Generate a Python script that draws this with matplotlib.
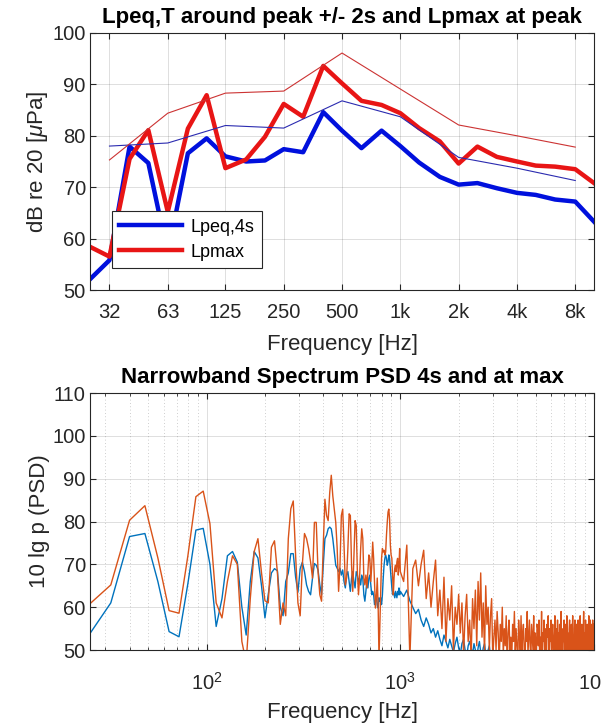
import numpy as np
import matplotlib
matplotlib.use('Agg')
import matplotlib.pyplot as plt
from matplotlib.ticker import FixedLocator, NullLocator, LogLocator, NullFormatter

# ---- top panel: third-octave and octave band levels ----
f_third = [25, 31.5, 40, 50, 63, 80, 100, 125, 160, 200, 250, 315, 400, 500, 630,
           800, 1000, 1250, 1600, 2000, 2500, 3150, 4000, 5000, 6300, 8000, 10000]
lpeq_third = [52.1, 55.8, 77.9, 74.7, 57.0, 76.6, 79.5, 76.0, 75.0, 75.2, 77.4, 76.8, 84.6, 81.0,
              77.6, 81.0, 78.0, 74.8, 72.0, 70.5, 70.8, 69.8, 68.9, 68.5, 67.6, 67.2, 63.3]
lpmax_third = [58.4, 56.5, 75.5, 81.1, 65.2, 81.4, 87.9, 73.7, 75.4, 79.8, 86.2, 83.7, 93.6, 90.2,
               86.8, 86.0, 84.4, 81.5, 78.9, 74.6, 77.9, 75.9, 75.0, 74.2, 74.0, 73.5, 70.8]
f_oct = [31.5, 63, 125, 250, 500, 1000, 2000, 4000, 8000]
oct_labels = ['32', '63', '125', '250', '500', '1k', '2k', '4k', '8k']
lpeq_oct = [78.0, 78.6, 82.0, 81.5, 86.8, 83.7, 75.8, 73.7, 71.3]
lpmax_oct = [75.3, 84.4, 88.3, 88.7, 96.1, 89.1, 82.1, 80.0, 77.8]

# ---- bottom panel: narrowband PSD ----
psd_f_lo = np.arange(24, 1001, 8)
psd_4s_lo = [52.7, 61.0, 76.5, 77.2, 66.0, 54.3, 53.1, 65.5, 78.0, 78.4,
             70.0, 55.5, 62.0, 72.0, 73.0, 70.5, 60.0, 53.5, 66.0, 73.0,
             71.5, 65.0, 57.5, 63.0, 68.0, 69.0, 68.5, 60.0, 58.0, 66.0,
             68.0, 72.5, 72.5, 67.0, 63.5, 69.0, 70.5,
             68.3, 65.2, 63.7, 62.9, 66.8, 70.2, 69.8, 68.7, 65.2, 62.9,
             69.8, 76.0, 76.8, 78.3, 78.7, 78.3, 76.0, 72.9, 69.8, 69.1,
             68.3, 69.1, 67.5, 68.7, 66.0, 64.5, 67.5, 68.3, 66.0, 63.7,
             66.8, 68.3, 66.0, 64.5, 68.3, 67.5, 66.0, 66.8, 65.2, 67.5,
             66.8, 62.9, 61.4, 63.7, 66.0, 64.5, 66.8, 67.5, 65.2, 62.9,
             63.7, 62.9, 60.6, 61.4, 62.9, 60.6, 59.8, 62.2, 61.4, 62.2,
             60.6, 62.9, 66.8, 69.8, 71.4, 72.2, 71.4, 69.8, 70.6, 72.2,
             71.4, 69.1, 66.8, 64.5, 62.9, 63.7, 62.9, 62.2, 63.7, 62.9,
             62.2, 63.7, 62.9, 64.5, 62.9, 63.7]
psd_max_lo = [60.1, 65.2, 80.3, 83.7, 71.5, 59.2, 58.6, 72.0, 85.8, 87.1,
              79.5, 61.0, 57.5, 66.0, 72.0, 70.0, 52.0, 47.0, 62.0, 73.0,
              76.0, 68.0, 61.5, 61.0, 74.0, 75.5, 68.0, 56.0, 61.0, 58.0,
              76.0, 83.0, 84.8, 72.0, 61.0, 58.0, 70.0,
              77.2, 76.0, 73.7, 70.6, 66.8, 79.8, 79.8, 68.3, 62.9, 61.4,
              74.5, 85.2, 81.4, 80.2, 86.8, 90.8, 86.0, 82.9, 79.8, 73.7,
              63.7, 69.8, 81.4, 82.9, 74.5, 65.2, 66.8, 73.7, 81.8, 81.4,
              69.8, 63.7, 72.2, 80.2, 79.1, 68.3, 62.9, 66.8, 73.7, 78.3,
              76.0, 66.8, 65.2, 67.5, 64.5, 68.3, 72.2, 71.4, 66.0, 69.8,
              75.2, 71.4, 65.2, 59.8, 62.2, 66.8, 60.6, 48.0, 56.0, 64.5,
              71.4, 73.7, 72.9, 73.3, 72.2, 72.9, 76.8, 79.8, 82.2, 82.9,
              80.6, 74.5, 72.2, 71.4, 67.5, 62.9, 66.8, 69.1, 69.8, 68.3,
              70.6, 71.4, 67.5, 69.8, 73.7, 68.3]

psd_f_hi = np.arange(1040, 10001, 40)
psd_4s_hi = [62.5, 64.0, 61.5, 60.0, 58.5, 59.5, 57.0, 55.5, 57.5, 56.0,
             54.0, 55.0, 53.0, 54.5, 52.5, 51.0, 53.5, 52.0, 50.5, 52.5,
             51.0, 49.5, 51.5, 53.0, 50.5, 49.0, 51.5, 52.5, 50.0, 48.5,
             51.0, 52.0, 50.5, 49.0, 51.5, 50.0, 48.0, 50.5, 52.0, 49.5,
             48.5, 50.5, 51.5, 49.0, 48.0, 50.0, 51.0, 48.5, 47.5, 49.5,
             48.0, 46.5, 47.5, 46.0, 45.0]
psd_max_hi = [66, 74.5, 48, 69, 71,
              65, 70, 73.3, 62, 68, 60, 66,
              71, 58, 64, 55, 67, 52, 62, 57, 65, 50, 60, 56, 63,
              54, 61, 49, 58, 63, 52, 57, 48, 62, 55, 64, 51, 66, 57, 68,
              53, 61, 49, 65, 56, 60, 50, 58, 62, 48,
              53, 57, 50, 59, 54, 47, 56, 52, 60, 49,
              55, 51, 58, 46, 54, 57, 50, 53, 48, 56,
              52, 59, 49, 55, 51, 47, 57, 53, 50, 58,
              48, 54, 56, 50, 46, 55, 52, 59, 49, 53,
              57, 51, 48, 56, 53, 50, 58, 47, 54, 52,
              49, 56, 55, 51, 57, 48, 53, 50, 59, 46,
              54, 52, 57, 49, 55, 51, 47, 56, 53, 58,
              50, 48, 55, 52, 57, 49, 54, 56, 51, 47,
              53, 58, 50, 55, 48, 52, 57, 49, 54, 51,
              56, 47, 53, 59, 50, 54, 48, 55, 52, 57,
              49, 51, 56, 53, 47, 58, 50, 54, 52, 48,
              55, 57, 49, 53, 51, 56, 46, 54, 58, 50,
              52, 48, 55, 57, 50, 53, 49, 56, 51, 54,
              47, 57, 52, 55, 49, 53, 58, 50, 54, 48,
              56, 51, 53, 47, 55, 59, 50, 52, 54, 49,
              57, 53, 48, 55, 51, 56, 50, 54, 52, 58,
              49, 55, 53, 57, 50, 48, 56, 52, 54, 51,
              57, 50, 55, 53, 56]

psd_f = np.concatenate([psd_f_lo, psd_f_hi])
psd_max = np.array(psd_max_lo + psd_max_hi, dtype=float)
psd_f_4s = np.concatenate([psd_f_lo, psd_f_hi[:len(psd_4s_hi)]])
psd_4s = np.array(psd_4s_lo + psd_4s_hi, dtype=float)

plt.rcParams.update({
    'font.family': ['Liberation Sans', 'DejaVu Sans'],
    'mathtext.fontset': 'custom',
    'mathtext.rm': 'Liberation Sans',
    'mathtext.it': 'Liberation Sans:italic',
    'axes.edgecolor': '#262626',
    'axes.linewidth': 0.8,
    'xtick.color': '#262626',
    'ytick.color': '#262626',
    'axes.labelcolor': '#262626',
    'xtick.direction': 'in',
    'ytick.direction': 'in',
    'xtick.top': True,
    'ytick.right': True,
    'xtick.labelsize': 14.5,
    'ytick.labelsize': 14.5,
})

fig = plt.figure(figsize=(6.01, 7.25), dpi=100)

# top axes
ax1 = fig.add_axes([0.1498, 0.6, 0.8386, 0.3545])
l1, = ax1.plot(f_third, lpeq_third, color='#0010dd', lw=3.2, solid_joinstyle='round')
l2, = ax1.plot(f_third, lpmax_third, color='#e81515', lw=3.2, solid_joinstyle='round')
ax1.plot(f_oct, lpeq_oct, color='#2b2bb0', lw=0.8)
ax1.plot(f_oct, lpmax_oct, color='#cc3333', lw=0.8)
ax1.set_xscale('log')
ax1.set_xlim(25, 10000)
ax1.set_ylim(50, 100)
ax1.xaxis.set_major_locator(FixedLocator(f_oct))
ax1.set_xticklabels(oct_labels)
ax1.xaxis.set_minor_locator(NullLocator())
ax1.set_yticks([50, 60, 70, 80, 90, 100])
ax1.tick_params(axis='x', length=4, width=0.8, pad=9)
ax1.tick_params(axis='y', length=4, width=0.8, pad=3)
ax1.grid(True, color='#262626', alpha=0.15, lw=0.7)
ax1.set_xlabel('Frequency [Hz]', fontsize=16, labelpad=9)
ax1.set_ylabel(r'dB re 20 [$\mu$Pa]', fontsize=16, labelpad=2)
ax1.set_title('Lpeq,T around peak +/- 2s and Lpmax at peak', fontsize=16,
              fontweight='bold', color='black', pad=7)
leg = ax1.legend([l1, l2], ['Lpeq,4s', 'Lpmax'], loc='lower left',
                 bbox_to_anchor=(0.0437, 0.0856), borderaxespad=0, fontsize=13,
                 fancybox=False, edgecolor='#262626', framealpha=1,
                 handlelength=3.5, handletextpad=0.45, borderpad=0.4, labelspacing=0.45)
leg.get_frame().set_linewidth(0.8)

# bottom axes
ax2 = fig.add_axes([0.1498, 0.1034, 0.8386, 0.3545])
ax2.plot(psd_f_4s, psd_4s, color='#0072BD', lw=1.0)
ax2.plot(psd_f, psd_max, color='#D95319', lw=1.0)
ax2.set_xscale('log')
ax2.set_xlim(25, 10000)
ax2.set_ylim(50, 110)
ax2.set_yticks([50, 60, 70, 80, 90, 100, 110])
ax2.xaxis.set_major_locator(LogLocator(base=10))
ax2.xaxis.set_minor_locator(LogLocator(base=10, subs=np.arange(2, 10)))
ax2.xaxis.set_minor_formatter(NullFormatter())
ax2.tick_params(axis='x', which='major', length=4, width=0.8, pad=16)
ax2.tick_params(axis='y', which='major', length=4, width=0.8, pad=3)
ax2.tick_params(which='minor', length=2.5, width=0.6)
ax2.grid(True, which='major', color='#262626', alpha=0.15, lw=0.7)
ax2.grid(True, which='minor', axis='x', color='#262626', alpha=0.3, lw=0.6, linestyle=(0, (1, 3)))
ax2.set_xlabel('Frequency [Hz]', fontsize=16, labelpad=6)
ax2.set_ylabel('10 lg p (PSD)', fontsize=16, labelpad=2)
ax2.set_title('Narrowband Spectrum PSD 4s and at max', fontsize=16,
              fontweight='bold', color='black', pad=7)

fig.savefig('out.png', dpi=100)
